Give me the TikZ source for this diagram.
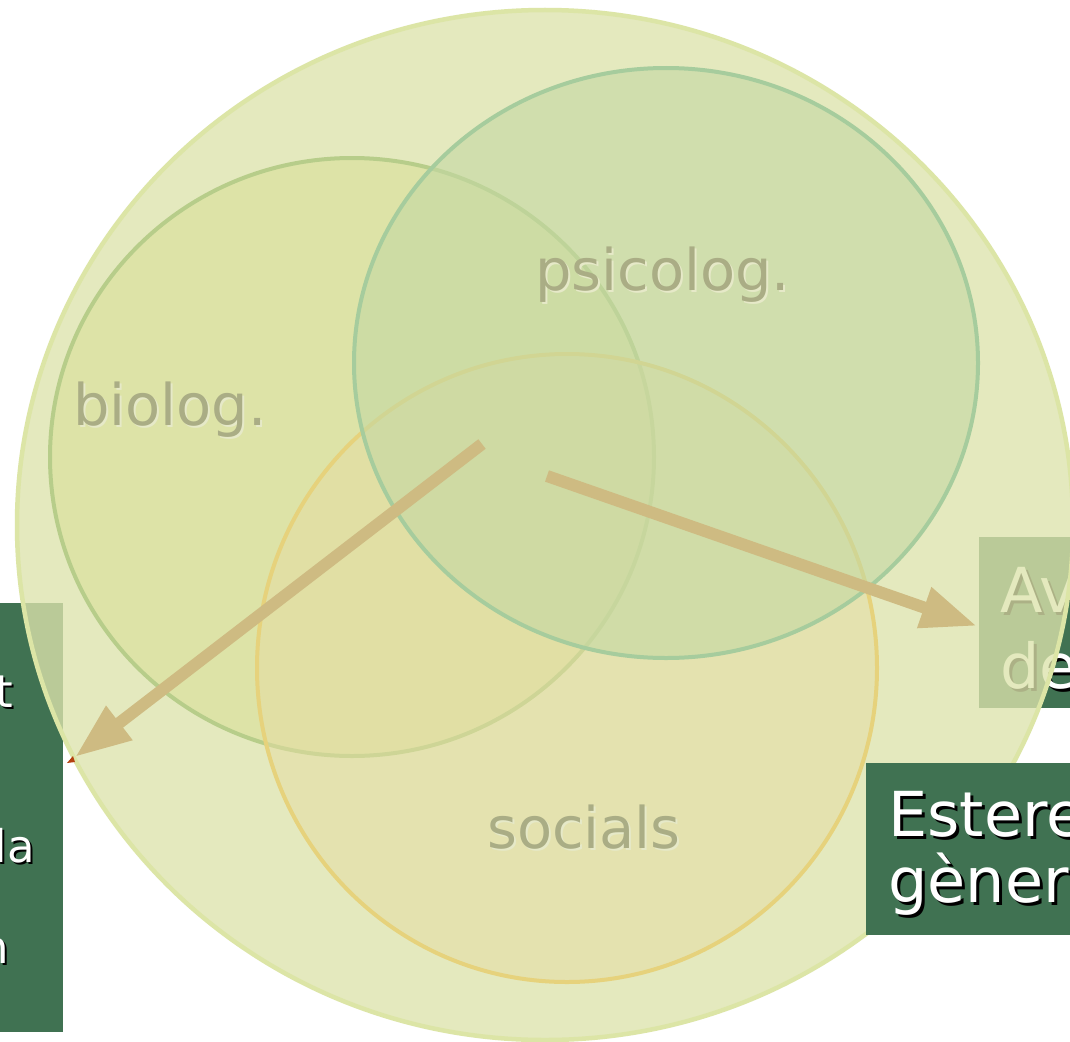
\documentclass[tikz,border=0pt]{standalone}
\usepackage{fontspec}
\setmainfont{DejaVu Sans}
\usetikzlibrary{arrows.meta}
\definecolor{bigfill}{RGB}{221,228,172}
\definecolor{bigline}{RGB}{220,229,166}
\definecolor{biofill}{RGB}{217,223,152}
\definecolor{bioline}{RGB}{183,205,138}
\definecolor{psifill}{RGB}{195,216,163}
\definecolor{psiline}{RGB}{166,204,157}
\definecolor{socfill}{RGB}{229,221,162}
\definecolor{socline}{RGB}{230,210,124}
\definecolor{arrcol}{RGB}{206,187,130}
\definecolor{boxgreen}{RGB}{64,114,82}
\definecolor{labcol}{RGB}{170,173,133}
\definecolor{labshadow}{RGB}{230,233,200}
\definecolor{tipred}{RGB}{180,65,15}
\newcommand\shtxt[3]{\rlap{\kern#1\raisebox{-#1}{\textcolor{#2}{#3}}}#3}
\tikzset{
  darkbox/.style={fill=boxgreen, draw=none},
  lab/.style={font=\fontsize{57.4}{57.4}\selectfont, text=labcol, inner sep=0pt, anchor=base west},
  boxtxt/.style={font=\fontsize{62}{62}\selectfont, text=white, inner sep=0pt, anchor=base west},
  smalltxt/.style={font=\fontsize{45}{45}\selectfont, text=white, inner sep=0pt, anchor=base east},
  arr/.style={draw=arrcol, line width=12pt, -{Triangle[length=56pt,width=40pt]}},
}
\begin{document}
\begin{tikzpicture}[x=1pt,y=-1pt]
\useasboundingbox (0,0) rectangle (1070,1041);
\clip (0,0) rectangle (1070,1041);
\fill[white] (0,0) rectangle (1070,1041);
% boxes under the big circle
\path[darkbox] (0,603) rectangle (63,1032);
\node[smalltxt] (t) at (13,707) {\shtxt{2pt}{black}{t}};
\node[smalltxt] (la) at (35,862) {\shtxt{2pt}{black}{la}};
\node[smalltxt] (n) at (9,963) {\shtxt{2pt}{black}{n}};
\path[darkbox] (979,537) rectangle (1075,708);
\node[boxtxt] (av) at (1000,612) {\shtxt{3pt}{black}{Av}};
\node[boxtxt] (de) at (1000,688) {\shtxt{3pt}{black}{de}};
% big circle
\draw[fill=bigfill, fill opacity=0.78, draw=bigline, line width=4.5pt] (545,525) ellipse [x radius=528, y radius=515];
% inner circles
\draw[fill=biofill, fill opacity=0.6, draw=bioline, line width=4pt] (352,457) ellipse [x radius=302, y radius=299];
\draw[fill=socfill, fill opacity=0.5, draw=socline, line width=4pt] (567,668) ellipse [x radius=310, y radius=314];
\draw[fill=psifill, fill opacity=0.6, draw=psiline, line width=4pt] (666,363) ellipse [x radius=312, y radius=295];
% labels
\node[lab] (bio) at (73,425) {\shtxt{2pt}{labshadow}{biolog.}};
\node[lab] (psi) at (535,290) {\shtxt{2pt}{labshadow}{psicolog.}};
\node[lab] (soc) at (487,848) {\shtxt{2pt}{labshadow}{socials}};
% small red tip
\fill[tipred] (67,763) -- (73,756) -- (75,762) -- cycle;
% arrows
\coordinate (a1s) at (482,444);
\coordinate (a1e) at (75,757);
\coordinate (a2s) at (547,476);
\coordinate (a2e) at (977,626);
\draw[arr] (a1s) -- (a1e);
\draw[arr] (a2s) -- (a2e);
% box above the big circle
\path[darkbox] (866,763) rectangle (1075,935);
\node[boxtxt] (est) at (888,836) {\shtxt{3pt}{black}{Estere}};
\node[boxtxt] (gen) at (888,902) {\shtxt{3pt}{black}{gèner}};
\end{tikzpicture}
\end{document}
